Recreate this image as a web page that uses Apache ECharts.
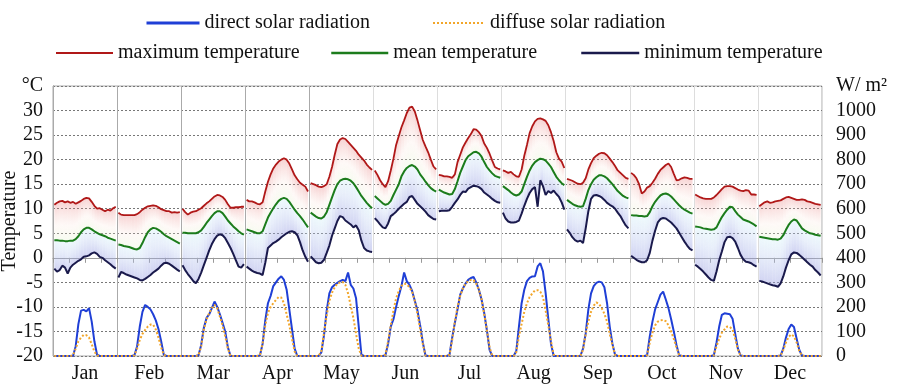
<!DOCTYPE html>
<html>
<head>
<meta charset="utf-8">
<script src="https://cdn.jsdelivr.net/npm/echarts@6/dist/echarts.min.js"></script>
<style>
  html, body { margin: 0; padding: 0; background: #fff; }
  #chart { width: 901px; height: 388px; }
</style>
</head>
<body>
<div id="chart"></div>
<script>
// months along the x axis, each month is one typical day (24 hourly values)
const months = ['Jan', 'Feb', 'Mar', 'Apr', 'May', 'Jun', 'Jul', 'Aug', 'Sep', 'Oct', 'Nov', 'Dec'];

// maximum temperature, °C
const tMax = [
    [10.8, 11.2, 11.5, 11.6, 11.3, 11.5, 11.2, 11.4, 11.0, 11.3, 11.6, 12.0, 12.2, 12.1, 11.4, 10.6, 10.0, 10.1, 9.8, 9.5, 9.8, 9.6, 10.1, 10.4],
    [9.2, 8.8, 8.7, 8.7, 8.7, 8.7, 8.7, 8.9, 9.3, 9.8, 10.2, 10.5, 10.6, 10.7, 10.6, 10.3, 9.9, 9.7, 9.5, 9.5, 9.2, 9.3, 9.2, 9.3],
    [10.0, 9.3, 8.8, 9.2, 9.4, 9.5, 9.8, 10.1, 10.6, 11.1, 11.5, 12.0, 12.5, 12.8, 12.7, 12.4, 11.8, 10.9, 10.2, 10.2, 10.3, 10.3, 10.4, 10.4],
    [11.8, 11.5, 11.5, 11.3, 11.0, 10.9, 11.3, 13.5, 15.5, 17.0, 18.2, 19.0, 19.6, 20.0, 20.3, 20.0, 19.2, 18.0, 16.8, 16.0, 15.3, 14.9, 14.5, 13.5],
    [15.2, 15.0, 14.8, 14.5, 14.4, 14.6, 15.0, 16.5, 18.5, 21.0, 23.2, 24.1, 24.4, 24.2, 23.6, 23.0, 22.4, 21.8, 21.0, 20.4, 19.8, 19.0, 18.4, 17.9],
    [17.8, 16.9, 15.8, 15.0, 14.4, 15.6, 17.8, 20.2, 23.0, 24.8, 26.6, 28.0, 29.5, 30.6, 30.8, 29.8, 28.0, 26.0, 24.0, 22.7, 21.5, 20.0, 18.6, 18.0],
    [16.9, 16.8, 16.6, 16.6, 16.5, 16.3, 17.0, 19.5, 21.0, 22.5, 23.5, 24.4, 25.2, 26.2, 26.1, 25.6, 24.8, 23.3, 22.4, 21.2, 19.8, 18.5, 18.2, 18.0],
    [17.8, 17.6, 17.3, 17.5, 17.0, 16.6, 16.5, 18.0, 20.8, 23.0, 25.4, 26.8, 27.8, 28.3, 28.4, 28.2, 27.9, 27.0, 25.6, 23.8, 21.5, 20.2, 19.6, 18.3],
    [16.1, 15.9, 15.7, 15.4, 15.1, 15.0, 15.3, 16.2, 18.0, 19.3, 20.3, 20.8, 21.2, 21.4, 21.3, 20.9, 20.2, 19.5, 18.7, 17.8, 17.3, 16.8, 16.3, 16.1],
    [17.3, 16.9, 16.2, 15.0, 13.1, 13.5, 14.3, 14.6, 15.3, 16.1, 17.1, 17.9, 18.4, 18.9, 19.2, 18.5, 17.1, 15.8, 15.9, 16.2, 16.4, 16.3, 16.1, 16.1],
    [12.9, 12.6, 12.3, 12.1, 12.0, 12.0, 12.0, 12.3, 12.8, 13.4, 14.0, 14.5, 14.6, 14.6, 14.5, 14.2, 13.9, 13.7, 13.6, 13.8, 13.7, 12.9, 12.9, 12.8],
    [10.5, 10.9, 11.3, 11.5, 11.2, 11.3, 11.5, 11.6, 11.7, 12.0, 12.3, 12.4, 12.2, 12.0, 11.8, 11.8, 11.9, 11.8, 11.5, 11.4, 11.2, 11.0, 10.9, 10.8]
];

// mean temperature, °C
const tMean = [
    [3.6, 3.6, 3.5, 3.5, 3.4, 3.4, 3.5, 3.5, 3.8, 4.4, 5.2, 5.8, 6.1, 6.1, 5.8, 5.4, 5.1, 4.8, 4.6, 4.4, 4.1, 3.9, 3.7, 3.5],
    [2.7, 2.6, 2.4, 2.3, 2.2, 2.0, 1.8, 1.7, 2.0, 3.0, 4.2, 5.2, 5.8, 6.1, 6.0, 5.7, 5.3, 4.8, 4.4, 4.1, 3.8, 3.5, 3.2, 2.9],
    [5.1, 5.1, 5.0, 5.0, 5.0, 5.0, 5.2, 5.6, 6.3, 7.1, 7.8, 8.5, 9.1, 9.5, 9.5, 9.1, 8.4, 7.6, 7.0, 6.4, 5.9, 5.4, 5.0, 4.7],
    [5.8, 5.6, 5.4, 5.2, 5.0, 5.0, 5.4, 6.8, 8.2, 9.2, 10.1, 10.9, 11.6, 12.0, 12.2, 12.0, 11.4, 10.6, 9.8, 9.1, 8.5, 7.8, 7.0, 6.2],
    [9.2, 8.8, 8.4, 8.1, 8.0, 8.4, 9.3, 10.8, 12.3, 13.8, 15.0, 15.7, 16.0, 16.1, 16.0, 15.7, 15.2, 14.4, 13.5, 12.6, 11.9, 11.2, 10.6, 10.1],
    [12.6, 12.1, 11.6, 11.1, 10.8, 11.0, 11.6, 12.8, 13.9, 15.0, 16.6, 17.6, 18.3, 18.7, 18.9, 18.6, 18.0, 17.0, 16.3, 15.5, 14.8, 14.2, 13.8, 13.5],
    [13.9, 13.6, 13.3, 13.1, 12.9, 13.0, 14.0, 15.6, 17.3, 18.6, 19.9, 20.7, 21.1, 21.5, 21.6, 21.3, 20.6, 19.5, 18.5, 17.8, 17.2, 16.7, 16.5, 16.3],
    [14.6, 14.2, 13.8, 13.3, 12.9, 12.7, 12.9, 13.5, 15.0, 16.5, 17.8, 18.8, 19.5, 19.9, 20.2, 20.1, 19.8, 19.2, 18.5, 17.5, 16.5, 15.8, 15.2, 14.8],
    [11.8, 11.4, 11.0, 10.7, 10.5, 10.4, 10.5, 12.0, 13.8, 15.0, 15.9, 16.4, 16.8, 16.8, 16.6, 16.2, 15.6, 15.0, 14.3, 13.6, 13.1, 12.6, 12.3, 12.1],
    [8.7, 8.6, 8.6, 8.5, 8.5, 8.4, 8.5, 9.3, 10.5, 11.4, 12.1, 12.7, 13.0, 13.1, 12.9, 12.5, 11.9, 11.3, 10.7, 10.2, 9.8, 9.5, 9.2, 9.0],
    [6.4, 6.3, 6.2, 6.0, 5.9, 5.8, 5.7, 5.8, 6.2, 7.3, 8.3, 9.1, 9.8, 10.4, 10.3, 9.5, 8.8, 8.3, 7.8, 7.6, 7.4, 7.1, 6.8, 6.4],
    [4.3, 4.2, 4.1, 4.0, 3.9, 3.8, 3.8, 3.7, 3.9, 4.6, 5.7, 6.7, 7.4, 7.8, 7.6, 6.8, 6.0, 5.6, 5.3, 5.0, 4.9, 4.7, 4.6, 4.5]
];

// minimum temperature, °C
const tMin = [
    [-2.2, -2.8, -2.5, -1.6, -2.0, -3.2, -2.0, -1.4, -1.0, -0.6, -0.3, 0.2, 0.3, 0.5, 0.9, 1.1, 0.8, 0.2, 0.0, -0.5, -0.9, -1.3, -1.8, -2.2],
    [-4.0, -2.9, -3.1, -3.4, -3.6, -3.8, -4.0, -4.2, -4.5, -4.6, -4.3, -3.9, -3.5, -3.0, -2.6, -2.2, -1.6, -1.1, -1.0, -1.2, -1.6, -2.0, -2.4, -2.8],
    [-1.5, -2.5, -3.3, -4.0, -4.7, -5.2, -4.3, -3.0, -1.5, 0.0, 1.5, 2.8, 3.8, 4.5, 4.8, 4.6, 4.0, 3.0, 2.0, 0.8, -0.5, -1.8, -2.0, -1.3],
    [-1.8, -2.2, -2.6, -2.9, -3.1, -3.2, -3.5, -1.0, 2.0, 2.5, 3.0, 3.3, 3.7, 4.2, 4.6, 5.0, 5.3, 5.4, 5.2, 4.6, 3.2, 1.5, 0.2, -0.8],
    [0.3, -0.3, -0.9, -1.1, -1.0, -0.4, 1.0, 2.5, 4.5, 6.0, 7.5, 8.5, 8.3, 7.6, 7.2, 6.8, 6.2, 6.6, 5.6, 3.5, 2.0, 1.5, 1.3, 1.2],
    [8.1, 7.5, 6.8, 6.2, 6.0, 7.0, 8.5, 8.9, 9.4, 10.0, 10.5, 11.0, 11.4, 12.4, 12.6, 11.8, 11.0, 10.5, 10.0, 9.4, 8.7, 8.3, 7.9, 7.8],
    [9.5, 9.6, 9.6, 9.6, 9.7, 10.4, 11.2, 11.9, 12.8, 13.5, 13.4, 14.1, 14.4, 14.7, 14.6, 14.4, 14.0, 13.3, 12.9, 12.5, 12.0, 11.6, 11.3, 11.2],
    [9.2, 8.0, 7.4, 7.2, 7.2, 7.3, 7.6, 9.0, 10.6, 12.0, 13.2, 14.0, 14.4, 10.4, 15.8, 14.6, 12.8, 13.6, 13.2, 13.7, 13.0, 12.4, 11.3, 9.8],
    [5.8, 5.1, 4.2, 3.6, 3.3, 3.5, 3.0, 6.0, 9.5, 12.0, 12.7, 12.8, 12.6, 12.3, 11.8, 11.2, 10.8, 10.5, 10.0, 9.2, 8.5, 7.5, 6.6, 6.0],
    [0.4, 0.0, -0.4, -0.7, -0.9, -0.9, -0.5, 1.0, 3.5, 5.5, 7.2, 7.9, 8.1, 8.0, 7.6, 7.2, 6.6, 6.0, 5.1, 4.2, 3.3, 2.5, 1.8, 1.5],
    [-1.4, -1.8, -2.3, -2.8, -3.4, -4.0, -4.5, -4.7, -2.8, -0.5, 1.3, 3.2, 4.2, 4.3, 4.0, 3.3, 2.0, 0.6, -0.3, -0.8, -0.9, -1.1, -1.5, -1.8],
    [-4.7, -4.8, -5.0, -5.2, -5.4, -5.6, -5.7, -5.9, -5.2, -3.8, -2.0, -0.5, 0.7, 1.1, 1.0, 0.6, 0.1, -0.4, -0.9, -1.4, -1.8, -2.5, -3.0, -3.6]
];

// direct solar radiation, W/m2
const directRad = [
    [0, 0, 0, 0, 0, 0, 0, 0, 40, 130, 185, 188, 182, 195, 140, 60, 5, 0, 0, 0, 0, 0, 0, 0],
    [0, 0, 0, 0, 0, 0, 3, 40, 120, 180, 208, 200, 190, 170, 145, 110, 60, 5, 0, 0, 0, 0, 0, 0],
    [0, 0, 0, 0, 0, 0, 3, 45, 115, 155, 170, 195, 222, 200, 170, 135, 100, 35, 0, 0, 0, 0, 0, 0],
    [0, 0, 0, 0, 0, 2, 50, 145, 215, 245, 285, 300, 315, 325, 310, 270, 190, 110, 30, 0, 0, 0, 0, 0],
    [0, 0, 0, 0, 15, 85, 185, 255, 280, 290, 298, 305, 310, 305, 340, 290, 275, 235, 120, 5, 0, 0, 0, 0],
    [0, 0, 0, 0, 3, 50, 120, 150, 200, 245, 285, 340, 305, 290, 265, 225, 185, 125, 55, 2, 0, 0, 0, 0],
    [0, 0, 0, 0, 5, 75, 135, 190, 250, 275, 295, 310, 318, 322, 300, 270, 230, 175, 105, 25, 0, 0, 0, 0],
    [0, 0, 0, 0, 0, 20, 120, 215, 270, 305, 318, 324, 325, 365, 378, 345, 256, 150, 50, 0, 0, 0, 0, 0],
    [0, 0, 0, 0, 0, 0, 30, 92, 190, 255, 285, 298, 303, 300, 280, 215, 120, 50, 5, 0, 0, 0, 0, 0],
    [0, 0, 0, 0, 0, 0, 3, 80, 140, 190, 220, 250, 262, 230, 195, 150, 100, 45, 3, 0, 0, 0, 0, 0],
    [0, 0, 0, 0, 0, 0, 0, 3, 55, 120, 168, 174, 172, 170, 152, 90, 30, 2, 0, 0, 0, 0, 0, 0],
    [0, 0, 0, 0, 0, 0, 0, 0, 2, 30, 75, 110, 128, 118, 70, 25, 2, 0, 0, 0, 0, 0, 0, 0]
];

// diffuse solar radiation, W/m2
const diffuseRad = [
    [0, 0, 0, 0, 0, 0, 0, 3, 30, 60, 75, 86, 85, 75, 48, 18, 2, 0, 0, 0, 0, 0, 0, 0],
    [0, 0, 0, 0, 0, 0, 3, 30, 65, 90, 106, 120, 128, 128, 108, 75, 35, 4, 0, 0, 0, 0, 0, 0],
    [0, 0, 0, 0, 0, 0, 3, 40, 110, 148, 175, 195, 208, 195, 160, 125, 80, 30, 0, 0, 0, 0, 0, 0],
    [0, 0, 0, 0, 0, 3, 50, 125, 175, 200, 215, 228, 240, 238, 215, 170, 125, 70, 18, 0, 0, 0, 0, 0],
    [0, 0, 0, 0, 20, 95, 165, 225, 258, 280, 295, 300, 302, 290, 255, 205, 155, 90, 30, 2, 0, 0, 0, 0],
    [0, 0, 0, 0, 5, 60, 125, 185, 235, 265, 285, 295, 292, 280, 262, 225, 170, 110, 50, 2, 0, 0, 0, 0],
    [0, 0, 0, 0, 5, 65, 140, 200, 245, 275, 295, 305, 310, 310, 295, 270, 230, 170, 105, 35, 0, 0, 0, 0],
    [0, 0, 0, 0, 0, 15, 80, 130, 180, 215, 240, 255, 267, 268, 262, 240, 185, 125, 60, 5, 0, 0, 0, 0],
    [0, 0, 0, 0, 0, 0, 25, 90, 140, 180, 205, 218, 212, 195, 172, 140, 90, 45, 5, 0, 0, 0, 0, 0],
    [0, 0, 0, 0, 0, 0, 3, 55, 95, 125, 140, 145, 147, 142, 125, 100, 70, 35, 3, 0, 0, 0, 0, 0],
    [0, 0, 0, 0, 0, 0, 0, 3, 40, 70, 95, 108, 120, 118, 108, 70, 25, 2, 0, 0, 0, 0, 0, 0],
    [0, 0, 0, 0, 0, 0, 0, 0, 2, 25, 55, 78, 88, 80, 55, 20, 2, 0, 0, 0, 0, 0, 0, 0]
];

const font = "'Liberation Serif', 'Times New Roman', serif";

// one line per month, broken between months
function monthLines(arr) {
    const out = [];
    arr.forEach((day, m) => {
        day.forEach((v, h) => out.push([m * 24 + h + 0.5, v]));
        out.push([m * 24 + 24, null]);
    });
    return out;
}
// radiation runs on continuously (zero at night)
function radLine(arr) {
    const out = [];
    arr.forEach((day, m) => day.forEach((v, h) => out.push([m * 24 + h + 0.5, v])));
    return out;
}
// band max -> mean -> min, one piece per hour step
const bandData = [];
tMax.forEach((day, m) => {
    for (let h = 0; h < 23; h++) {
        bandData.push([
            m * 24 + h + 0.5, m * 24 + h + 1.5,
            day[h], day[h + 1],
            tMean[m][h], tMean[m][h + 1],
            tMin[m][h], tMin[m][h + 1]
        ]);
    }
});
// warm part (max to mean)
const upperStops = [
    { offset: 0, color: 'rgba(225,95,95,0.28)' },
    { offset: 0.6, color: 'rgba(250,225,215,0.20)' },
    { offset: 1, color: 'rgba(225,245,205,0.30)' }
];
// cold part (mean to min)
const lowerStops = [
    { offset: 0, color: 'rgba(210,242,248,0.38)' },
    { offset: 0.35, color: 'rgba(190,208,242,0.34)' },
    { offset: 1, color: 'rgba(150,155,225,0.44)' }
];

function bandPiece(p0, p1, q1, q0, stops) {
    const top = (p0[1] + p1[1]) / 2;
    const bot = (q0[1] + q1[1]) / 2;
    return {
        type: 'polygon',
        shape: { points: [p0, p1, q1, q0] },
        style: { fill: new echarts.graphic.LinearGradient(0, top, 0, bot + 0.01, stops, true) }
    };
}

const chart = echarts.init(document.getElementById('chart'));
const legendText = { fontFamily: font, fontSize: 20, color: '#111' };
const legendBase = { itemHeight: 14, textStyle: legendText, itemStyle: { opacity: 0 } };
chart.setOption({
    animation: false,
    textStyle: { fontFamily: font },
    legend: [
        Object.assign({ data: ['direct solar radiation'], left: 140, top: 8 }, legendBase, { itemWidth: 53, lineStyle: { width: 3 } }),
        Object.assign({ data: ['diffuse solar radiation'], left: 427, top: 8 }, legendBase, { itemWidth: 52 }),
        Object.assign({ data: ['maximum temperature'], left: 50, top: 38 }, legendBase, { itemWidth: 57 }),
        Object.assign({ data: ['mean temperature'], left: 325, top: 38 }, legendBase, { itemWidth: 57, lineStyle: { width: 2.5 } }),
        Object.assign({ data: ['minimum temperature'], left: 575, top: 38 }, legendBase, { itemWidth: 58, lineStyle: { width: 2.5 } })
    ],
    grid: {
        left: 53, right: 79, top: 86, bottom: 32,
        containLabel: false, outerBoundsMode: 'none',
        show: true, borderColor: '#aaa', borderWidth: 1
    },
    xAxis: [
        {
            type: 'value', min: 0, max: 288, interval: 6,
            axisLine: { show: true, lineStyle: { color: '#999' } },
            axisTick: { show: true, length: 5, lineStyle: { color: '#999' } },
            axisLabel: {
                margin: 8, fontSize: 20, color: '#111', fontFamily: font,
                formatter: (v) => (v % 24 === 12 ? months[(v - 12) / 24] : '')
            },
            splitLine: { show: false }
        },
        {
            type: 'value', min: 0, max: 288, interval: 24, position: 'bottom',
            axisLine: { show: false }, axisTick: { show: false }, axisLabel: { show: false },
            splitLine: {
                show: true,
                lineStyle: { color: ['#aaa', '#aaa', '#aaa', '#aaa', '#aaa', '#ddd', '#ddd', '#ddd', '#ddd', '#ddd', '#ddd', '#ddd', '#ddd'] }
            }
        }
    ],
    yAxis: [
        {
            type: 'value', min: -20, max: 35, interval: 5,
            name: 'Temperature', nameLocation: 'middle', nameGap: 33, nameMoveOverlap: false,
            nameTextStyle: { fontSize: 20, color: '#111', fontFamily: font },
            axisLine: { show: true, lineStyle: { color: '#999' } },
            axisTick: { show: false },
            axisLabel: {
                margin: 10, fontSize: 20, color: '#111', fontFamily: font,
                formatter: (v) => (v === 35 ? '°C' : v)
            },
            splitLine: { show: true, lineStyle: { color: '#777', type: [2, 2], width: 1 } }
        },
        {
            type: 'value', min: 0, max: 1100, interval: 100, position: 'right',
            name: 'Solar radiation', nameLocation: 'middle', nameGap: 54, nameRotate: -90,
            nameTextStyle: { fontSize: 20, color: '#111', fontFamily: font },
            axisLine: { show: true, lineStyle: { color: '#aaa' } },
            axisTick: { show: false },
            axisLabel: {
                margin: 14, fontSize: 20, color: '#111', fontFamily: font,
                formatter: (v) => (v === 1100 ? 'W/ m²' : v)
            },
            splitLine: { show: false }
        }
    ],
    series: [
        {
            type: 'custom', xAxisIndex: 0, yAxisIndex: 0, z: 1, silent: true,
            data: bandData,
            encode: { x: [0, 1], y: [2, 3, 4, 5, 6, 7] },
            renderItem: (params, api) => {
                const x0 = api.value(0), x1 = api.value(1);
                const a0 = api.coord([x0, api.value(2)]), a1 = api.coord([x1, api.value(3)]);
                const b0 = api.coord([x0, api.value(4)]), b1 = api.coord([x1, api.value(5)]);
                const c0 = api.coord([x0, api.value(6)]), c1 = api.coord([x1, api.value(7)]);
                return {
                    type: 'group',
                    children: [
                        bandPiece(a0, a1, b1, b0, upperStops),
                        bandPiece(b0, b1, c1, c0, lowerStops)
                    ]
                };
            }
        },
        {
            name: 'direct solar radiation', type: 'line', yAxisIndex: 1, symbol: 'none', clip: false, z: 3,
            data: radLine(directRad), lineStyle: { color: '#1f3fd6', width: 2 }, itemStyle: { color: '#1f3fd6' }
        },
        {
            name: 'diffuse solar radiation', type: 'line', yAxisIndex: 1, symbol: 'none', clip: false, z: 4,
            data: radLine(diffuseRad), lineStyle: { color: '#f2a62a', width: 2, type: 'dotted' }, itemStyle: { color: '#f2a62a' }
        },
        {
            name: 'maximum temperature', type: 'line', symbol: 'none', z: 5,
            data: monthLines(tMax), lineStyle: { color: '#b01818', width: 1.8 }, itemStyle: { color: '#b01818' }
        },
        {
            name: 'mean temperature', type: 'line', symbol: 'none', z: 5,
            data: monthLines(tMean), lineStyle: { color: '#1c7c1c', width: 2 }, itemStyle: { color: '#1c7c1c' }
        },
        {
            name: 'minimum temperature', type: 'line', symbol: 'none', z: 5,
            data: monthLines(tMin), lineStyle: { color: '#1a1a4c', width: 2 }, itemStyle: { color: '#1a1a4c' }
        }
    ]
});
</script>
</body>
</html>
